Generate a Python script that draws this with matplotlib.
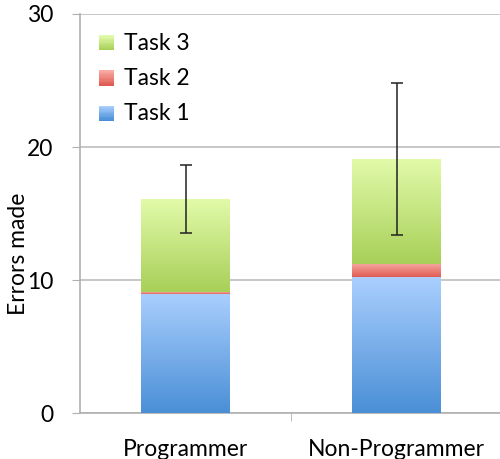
import numpy as np
import matplotlib.pyplot as plt
from matplotlib.colors import LinearSegmentedColormap
from matplotlib.legend_handler import HandlerBase
from matplotlib.patches import Rectangle

plt.rcParams['font.family'] = ['Lato', 'DejaVu Sans']
plt.rcParams['font.size'] = 16.5

groups = ["Programmer", "Non-Programmer"]
task1 = [8.95, 10.2]
task2 = [0.15, 1.0]
task3 = [7.0, 7.9]
err = [2.55, 5.7]
series = ["Task 1", "Task 2", "Task 3"]

# (top colour, bottom colour) for each task
grads = {
    "Task 1": ("#aacffe", "#4a8fd6"),
    "Task 2": ("#f7a9a4", "#e05c52"),
    "Task 3": ("#e2fbaa", "#a8cf58"),
}

fig = plt.figure(figsize=(5.0, 4.59), dpi=100)
ax = fig.add_axes([0.16, 0.1002, 0.844, 0.8693])

x = np.arange(len(groups))
width = 0.42
bottom = np.zeros(len(groups))
grad = np.linspace(0, 1, 256).reshape(-1, 1)
for name, vals in zip(series, [task1, task2, task3]):
    bars = ax.bar(x, vals, width, bottom=bottom, color="none", edgecolor="none",
                  label=name, zorder=3)
    cmap = LinearSegmentedColormap.from_list(name, [grads[name][1], grads[name][0]])
    for b in bars:
        x0, y0 = b.get_x(), b.get_y()
        im = ax.imshow(grad, cmap=cmap, aspect="auto", origin="lower",
                       extent=[x0, x0 + b.get_width(), y0, y0 + b.get_height()],
                       zorder=3)
        im.set_clip_path(b)
    bottom = bottom + np.array(vals)

ax.errorbar(x, bottom, yerr=err, fmt="none", ecolor="#222222", elinewidth=1.1,
            capsize=4, capthick=1.1, zorder=4)

ax.set_xlim(-0.5, 1.5)
ax.set_ylim(0, 30)
ax.set_yticks([0, 10, 20, 30])
ax.set_xticks([0.5], minor=True)
ax.set_xticks(x)
ax.set_xticklabels(groups)
ax.tick_params(axis="x", which="major", length=0, pad=19)
ax.tick_params(axis="x", which="minor", length=6, color="#b0b0b0")
ax.tick_params(axis="y", length=6, color="#b0b0b0", pad=13)
ax.grid(axis="y", color="#bdbdbd", linewidth=1.2, zorder=0)
for s in ["top", "right"]:
    ax.spines[s].set_visible(False)
for s in ["left", "bottom"]:
    ax.spines[s].set_color("#b0b0b0")
    ax.spines[s].set_linewidth(1.2)

ax.set_ylabel("Errors made")
ax.yaxis.set_label_coords(-0.12, 0.40)


class GradHandler(HandlerBase):
    def create_artists(self, legend, orig_handle, xdescent, ydescent, width,
                       height, fontsize, trans):
        top, bot = grads[orig_handle.get_label()]
        cmap = LinearSegmentedColormap.from_list("h", [bot, top])
        n = 12
        arts = []
        side = height * 0.95
        for i in range(n):
            r = Rectangle((xdescent, ydescent - 0.05 * height + side * i / n),
                          side, side / n + 0.01, facecolor=cmap(i / (n - 1)),
                          edgecolor="none", transform=trans)
            arts.append(r)
        return arts


h, l = ax.get_legend_handles_labels()
ax.legend(h[::-1], l[::-1], loc="upper left", frameon=False,
          handler_map={type(h[0]): GradHandler()}, handlelength=0.85,
          handletextpad=0.25, labelspacing=0.62, bbox_to_anchor=(-0.005, 1.005))

fig.savefig("out.png", dpi=100)
